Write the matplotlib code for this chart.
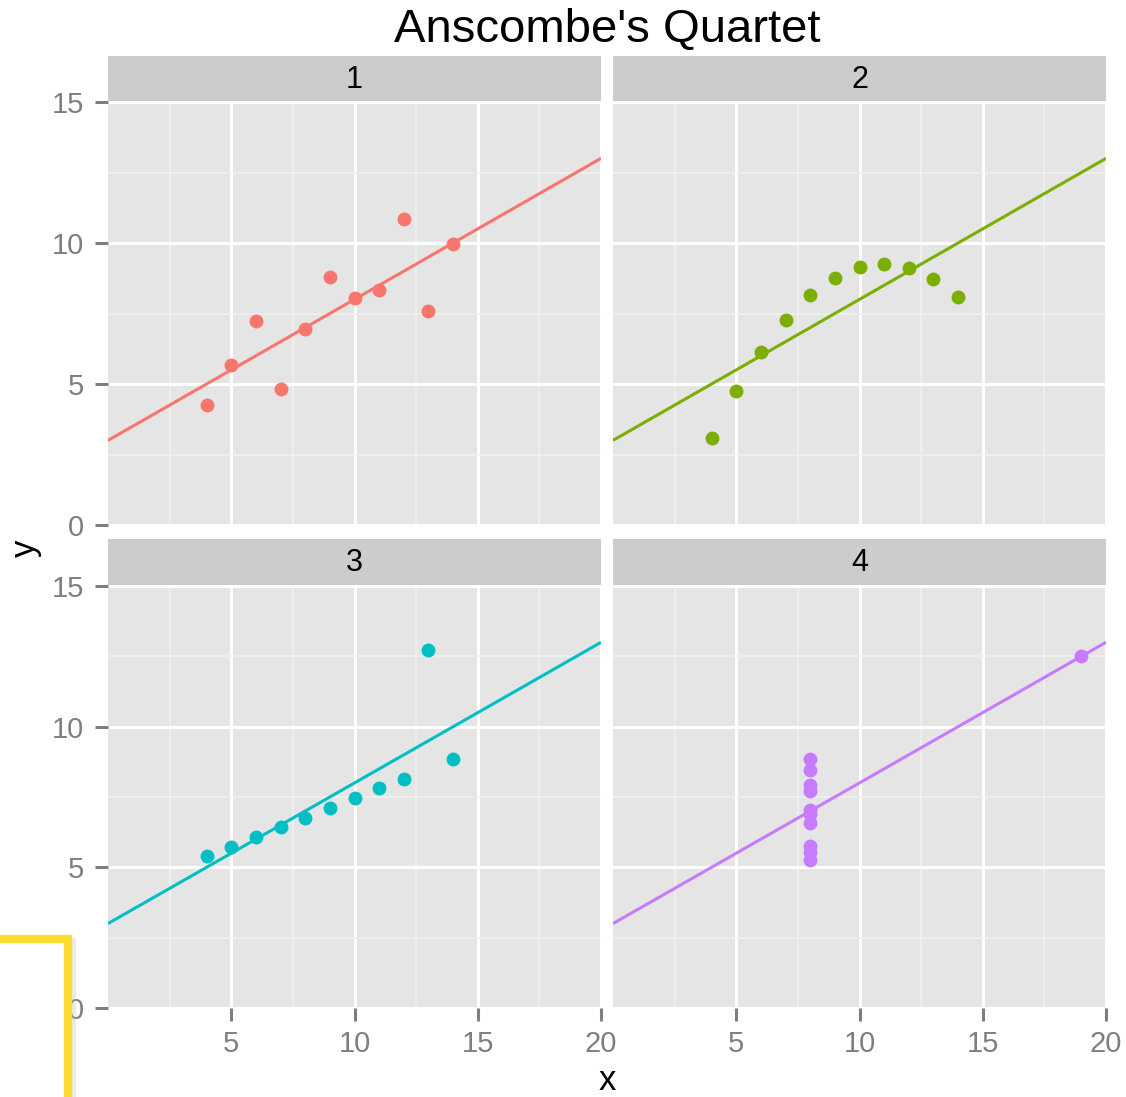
import numpy as np
import matplotlib
matplotlib.use("Agg")
import matplotlib.pyplot as plt
from matplotlib.patches import Rectangle

plt.rcParams['font.family'] = ['Liberation Sans', 'DejaVu Sans']

# Anscombe's quartet
panels = ['1', '2', '3', '4']
x_123 = [10, 8, 13, 9, 11, 14, 6, 4, 12, 7, 5]
x_4 = [8, 8, 8, 8, 8, 8, 8, 19, 8, 8, 8]
y_1 = [8.04, 6.95, 7.58, 8.81, 8.33, 9.96, 7.24, 4.26, 10.84, 4.82, 5.68]
y_2 = [9.14, 8.14, 8.74, 8.77, 9.26, 8.10, 6.13, 3.10, 9.13, 7.26, 4.74]
y_3 = [7.46, 6.77, 12.74, 7.11, 7.81, 8.84, 6.08, 5.39, 8.15, 6.42, 5.73]
y_4 = [6.58, 5.76, 7.71, 8.84, 8.47, 7.04, 5.25, 12.50, 5.56, 7.91, 6.89]
xs = [x_123, x_123, x_123, x_4]
ys = [y_1, y_2, y_3, y_4]
colors = ['#F8766D', '#7CAE00', '#00BFC4', '#C77CFF']

x_ticks = [5, 10, 15, 20]
y_ticks = [0, 5, 10, 15]
x_minor = [2.5, 7.5, 12.5, 17.5]
y_minor = [2.5, 7.5, 12.5]

W, H = 1126, 1097
fig = plt.figure(figsize=(W / 100, H / 100), dpi=100)
fig.patch.set_facecolor('white')


def px_axes(x0, y0, x1, y1):
    # pixel box (top-down) -> figure fraction
    return fig.add_axes([x0 / W, 1 - y1 / H, (x1 - x0) / W, (y1 - y0) / H])


cols = [(108, 601), (613, 1106)]
rows = [((56, 101), (102, 525)), ((539, 585), (586, 1008))]

for i, name in enumerate(panels):
    r, c = divmod(i, 2)
    (sx0, sx1) = cols[c]
    (st0, st1), (pt0, pt1) = rows[r]

    ax = px_axes(sx0, pt0, sx1, pt1)
    ax.set_facecolor('#E5E5E5')
    ax.set_xlim(0, 20)
    ax.set_ylim(0, 15)
    ax.set_xticks(x_ticks)
    ax.set_yticks(y_ticks)
    ax.set_xticks(x_minor, minor=True)
    ax.set_yticks(y_minor, minor=True)
    ax.grid(which='major', color='white', linewidth=2.2)
    ax.grid(which='minor', color='#F2F2F2', linewidth=1.1)
    ax.set_axisbelow(True)
    for s in ax.spines.values():
        s.set_visible(False)
    ax.tick_params(which='minor', length=0)
    ax.tick_params(which='major', length=9.5, width=2.2, color='#7F7F7F',
                   labelcolor='#7F7F7F', labelsize=21)
    ax.tick_params(axis='y', pad=8)
    ax.tick_params(axis='x', pad=6)
    if r == 0:
        ax.tick_params(axis='x', which='major', length=0, labelbottom=False)
    if c == 1:
        ax.tick_params(axis='y', which='major', length=0, labelleft=False)

    x = np.array(xs[i], dtype=float)
    y = np.array(ys[i], dtype=float)
    slope, intercept = np.polyfit(x, y, 1)
    xl = np.array([0, 20])
    ax.plot(xl, intercept + slope * xl, color=colors[i], linewidth=2.2,
            solid_capstyle='butt', clip_on=True, zorder=2)
    ax.plot(x, y, 'o', color=colors[i], markersize=10, markeredgewidth=0,
            zorder=3, clip_on=False)

    sax = px_axes(sx0, st0, sx1, st1)
    sax.set_facecolor('#CCCCCC')
    sax.set_xticks([])
    sax.set_yticks([])
    for s in sax.spines.values():
        s.set_visible(False)
    sax.text(0.5, 0.47, name, ha='center', va='center', fontsize=22,
             color='black', transform=sax.transAxes)

fig.text(607 / W, 1 - 30 / H, "Anscombe's Quartet", ha='center', va='center',
         fontsize=34, color='black')
fig.text(607 / W, 1 - 1080 / H, 'x', ha='center', va='center', fontsize=25)
fig.text(25 / W, 1 - 548 / H, 'y', ha='center', va='center', fontsize=25,
         rotation=90)

# yellow highlight box overlaid in the lower-left corner
fig.patches.append(Rectangle((-16 / W, -0.05), 92 / W, (1097 - 938) / H + 0.05,
                             transform=fig.transFigure, facecolor='#BBBBBB',
                             edgecolor='none', alpha=0.3, zorder=9))
fig.patches.append(Rectangle((-20 / W, -0.05), 88 / W, (1097 - 939) / H + 0.05,
                             transform=fig.transFigure, facecolor='white',
                             edgecolor='#FBDD2F', linewidth=6, zorder=10))

fig.savefig('out.png', dpi=100)
